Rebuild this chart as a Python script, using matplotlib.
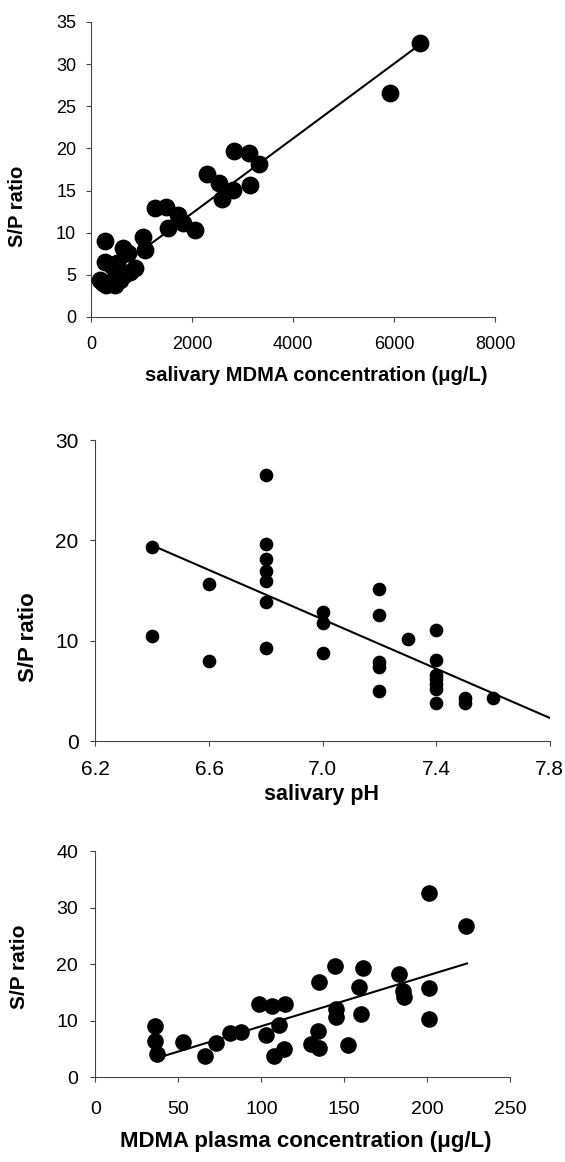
import numpy as np
import matplotlib.pyplot as plt

plt.rcParams['font.family'] = ['Liberation Sans', 'DejaVu Sans']

# panel 1: S/P ratio vs salivary MDMA concentration
sal_conc = [6509, 5914, 2839, 3125, 3319, 2294, 2530, 3140, 2817, 2602,
            1276, 1491, 1720, 1814, 1527, 2064, 1030, 1069, 277, 634,
            733, 515, 871, 772, 277, 416, 178, 376, 574, 300, 480, 230, 650]
sal_ratio = [32.5, 26.6, 19.7, 19.4, 18.2, 17.0, 15.9, 15.7, 15.1, 14.0,
             12.9, 13.0, 12.1, 11.2, 10.5, 10.3, 9.5, 8.0, 9.0, 8.2,
             7.6, 6.4, 5.8, 5.3, 6.5, 6.0, 4.4, 4.0, 4.4, 3.8, 3.8, 4.0, 5.0]
fit1_x = [130, 6509]
fit1_y = [4.0, 32.3]

# panel 2: S/P ratio vs salivary pH
ph = [6.4, 6.4, 6.6, 6.6, 6.8, 6.8, 6.8, 6.8, 6.8, 6.8, 6.8,
      7.0, 7.0, 7.0, 7.2, 7.2, 7.2, 7.2, 7.2, 7.3,
      7.4, 7.4, 7.4, 7.4, 7.4, 7.4, 7.4, 7.5, 7.5, 7.6]
ph_ratio = [19.3, 10.5, 15.7, 8.0, 26.5, 19.6, 18.1, 16.9, 15.9, 13.9, 9.3,
            12.9, 11.8, 8.8, 15.2, 12.6, 7.9, 7.4, 5.0, 10.2,
            11.1, 8.1, 6.6, 6.2, 5.7, 5.2, 3.8, 4.3, 3.8, 4.3]
fit2_x = [6.4, 7.8]
fit2_y = [19.5, 2.3]

# panel 3: S/P ratio vs plasma concentration
plasma = [35.8, 35.8, 36.8, 52.8, 66.3, 72.8, 81.1, 87.6, 98.8, 106.6,
          114.4, 102.9, 110.5, 107.7, 113.4, 134.5, 133.9, 130.1, 134.5, 144.3,
          144.7, 144.7, 152.4, 158.9, 161.1, 160.0, 182.9, 185.1, 185.7, 201.0,
          201.0, 201.0, 223.5]
pl_ratio = [9.0, 6.3, 4.0, 6.2, 3.8, 6.0, 7.8, 8.0, 12.9, 12.5,
            13.0, 7.4, 9.3, 3.8, 5.0, 16.9, 8.1, 5.9, 5.1, 19.6,
            12.1, 10.6, 5.6, 15.9, 19.3, 11.2, 18.2, 15.3, 14.2, 32.5,
            15.8, 10.3, 26.7]
fit3_x = [40.8, 223.9]
fit3_y = [3.7, 20.1]


def style(ax, tick_size, xpad, ypad):
    for s in ['top', 'right']:
        ax.spines[s].set_visible(False)
    for s in ['left', 'bottom']:
        ax.spines[s].set_color('#444444')
        ax.spines[s].set_linewidth(0.8)
    ax.tick_params(direction='out', length=3.6, width=0.8, color='#444444',
                   labelsize=tick_size)
    ax.tick_params(axis='x', pad=xpad)
    ax.tick_params(axis='y', pad=ypad)


fig = plt.figure(figsize=(5.65, 11.62), dpi=100)

ax1 = fig.add_axes([0.161, 0.7272, 0.715, 0.2539])
ax1.scatter(sal_conc, sal_ratio, s=140, color='black', zorder=3, clip_on=False)
ax1.plot(fit1_x, fit1_y, color='black', lw=1.5)
ax1.set_xlim(0, 8000)
ax1.set_ylim(0, 35)
ax1.set_xticks([0, 2000, 4000, 6000, 8000])
ax1.set_yticks(range(0, 36, 5))
style(ax1, 13, 10, 7)
ax1.set_xlabel('salivary MDMA concentration (\u03bcg/L)', fontsize=14.5, fontweight='bold')
ax1.set_ylabel('S/P ratio', fontsize=14.5, fontweight='bold')
ax1.xaxis.set_label_coords(0.557, -0.165)
ax1.yaxis.set_label_coords(-0.158, 0.376)

ax2 = fig.add_axes([0.169, 0.3623, 0.804, 0.259])
ax2.scatter(ph, ph_ratio, s=78, color='black', zorder=3, clip_on=False)
ax2.plot(fit2_x, fit2_y, color='black', lw=1.5)
ax2.set_xlim(6.2, 7.8)
ax2.set_ylim(0, 30)
ax2.set_xticks([6.2, 6.6, 7.0, 7.4, 7.8])
ax2.set_xticklabels(['6.2', '6.6', '7.0', '7.4', '7.8'])
ax2.set_yticks([0, 10, 20, 30])
style(ax2, 15, 10, 8.5)
ax2.set_xlabel('salivary pH', fontsize=15.5, fontweight='bold')
ax2.set_ylabel('S/P ratio', fontsize=16, fontweight='bold')
ax2.xaxis.set_label_coords(0.498, -0.143)
ax2.yaxis.set_label_coords(-0.124, 0.345)

ax3 = fig.add_axes([0.169, 0.0731, 0.734, 0.1945])
ax3.scatter(plasma, pl_ratio, s=120, color='black', zorder=3, clip_on=False)
ax3.plot(fit3_x, fit3_y, color='black', lw=1.5)
ax3.set_xlim(0, 250)
ax3.set_ylim(0, 40)
ax3.set_xticks([0, 50, 100, 150, 200, 250])
ax3.set_yticks([0, 10, 20, 30, 40])
style(ax3, 14, 13.5, 9)
ax3.set_xlabel('MDMA plasma concentration (\u03bcg/L)', fontsize=16, fontweight='bold')
ax3.set_ylabel('S/P ratio', fontsize=15, fontweight='bold')
ax3.xaxis.set_label_coords(0.506, -0.239)
ax3.yaxis.set_label_coords(-0.16, 0.487)

fig.savefig('out.png', dpi=100)
